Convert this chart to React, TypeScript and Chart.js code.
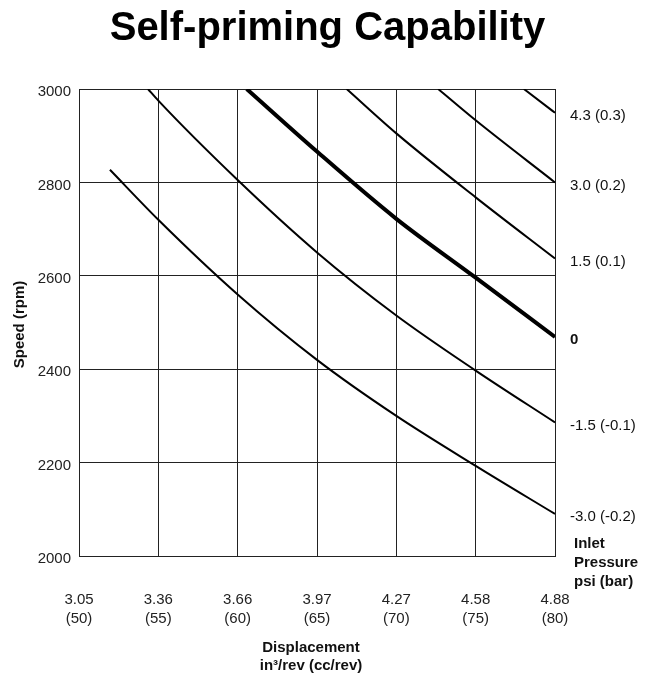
import React, { useEffect, useRef } from "react";
import { Chart, registerables } from "chart.js";

Chart.register(...registerables);

// Displacement tick labels (x axis: cc/rev)
const ccTicks = [50, 55, 60, 65, 70, 75, 80];
const inTicks = ["3.05", "3.36", "3.66", "3.97", "4.27", "4.58", "4.88"];

// Curves: inlet pressure psi (bar) – x in cc/rev, y in rpm
const p43X = [78.04, 80];
const p43Y = [3000, 2949];
const p30X = [72.64, 75, 80];
const p30Y = [3000, 2933, 2800];
const p15X = [66.87, 70, 75, 80];
const p15Y = [3000, 2905, 2768, 2637];
const zeroX = [60.57, 65, 70, 75, 80];
const zeroY = [3000, 2866, 2722, 2596, 2469];
const m15X = [54.35, 55, 60, 65, 70, 75, 80];
const m15Y = [3000, 2975, 2805, 2650, 2515, 2397, 2286];
const m30X = [51.95, 55, 60, 65, 70, 75, 80];
const m30Y = [2827, 2720, 2560, 2420, 2300, 2193, 2090];

const curveLabels = ["4.3 (0.3)", "3.0 (0.2)", "1.5 (0.1)", "0", "-1.5 (-0.1)", "-3.0 (-0.2)"];
const curveBold = [false, false, false, true, false, false];
const curveWidths = [2, 2, 2, 4, 2, 2];

const FONT = '"Liberation Sans", Arial, Helvetica, sans-serif';

function pts(xs: number[], ys: number[]) {
  return xs.map((x, i) => ({ x, y: ys[i] }));
}

const textPlugin = {
  id: "textPlugin",
  afterDraw(chart: any) {
    const ctx = chart.ctx as CanvasRenderingContext2D;
    const area = chart.chartArea;
    const ys = chart.scales.y;
    ctx.save();
    ctx.fillStyle = "#000";
    // Title
    ctx.font = `bold 40px ${FONT}`;
    ctx.textAlign = "center";
    ctx.textBaseline = "middle";
    ctx.fillText("Self-priming Capability", chart.width / 2, 21);

    // X axis title
    ctx.fillStyle = "#111";
    ctx.font = `bold 15px ${FONT}`;
    ctx.fillText("Displacement", 303, 640);
    ctx.fillText("in\u00b3/rev (cc/rev)", 303, 658);

    // Y axis title
    ctx.save();
    ctx.translate(12, (area.top + area.bottom) / 2 + 2);
    ctx.rotate(-Math.PI / 2);
    ctx.fillText("Speed (rpm)", 0, 0);
    ctx.restore();

    // Curve labels on the right
    ctx.textAlign = "left";
    chart.data.datasets.forEach((ds: any, i: number) => {
      const last = ds.data[ds.data.length - 1];
      const py = ys.getPixelForValue(last.y) + 3;
      ctx.font = `${curveBold[i] ? "bold " : ""}15px ${FONT}`;
      ctx.fillText(curveLabels[i], area.right + 15, py);
    });

    ctx.font = `bold 15px ${FONT}`;
    const lx = area.right + 19;
    ctx.fillText("Inlet", lx, area.bottom - 12);
    ctx.fillText("Pressure", lx, area.bottom + 7);
    ctx.fillText("psi (bar)", lx, area.bottom + 26);
    ctx.restore();
  },
};

export default function App() {
  const ref = useRef<HTMLCanvasElement>(null);
  useEffect(() => {
    if (!ref.current) return;
    const series = [
      pts(p43X, p43Y),
      pts(p30X, p30Y),
      pts(p15X, p15Y),
      pts(zeroX, zeroY),
      pts(m15X, m15Y),
      pts(m30X, m30Y),
    ];
    const chart = new Chart(ref.current, {
      type: "line",
      data: {
        datasets: series.map((d, i) => ({
          label: curveLabels[i],
          data: d,
          borderColor: "#000",
          borderWidth: curveWidths[i],
          pointRadius: 0,
          fill: false,
          cubicInterpolationMode: "monotone" as const,
        })),
      },
      options: {
        animation: false,
        responsive: false,
        maintainAspectRatio: false,
        layout: { padding: { top: 81, right: 92, left: 0, bottom: 0 } },
        plugins: { legend: { display: false }, tooltip: { enabled: false }, title: { display: false } },
        scales: {
          x: {
            type: "linear",
            min: 50,
            max: 80,
            afterFit: (s: any) => {
              s.height = 120;
            },
            afterBuildTicks: (s: any) => {
              s.ticks = ccTicks.map((v) => ({ value: v }));
            },
            grid: { color: "#222", lineWidth: 1, drawTicks: false },
            border: { color: "#222", width: 1 },
            ticks: {
              padding: 34,
              color: "#222",
              font: { family: FONT, size: 15, lineHeight: 1.27 },
              maxRotation: 0,
              callback: (v: any) => {
                const i = ccTicks.indexOf(Number(v));
                return i >= 0 ? [inTicks[i], `(${ccTicks[i]})`] : "";
              },
            },
          },
          y: {
            min: 2000,
            max: 3000,
            afterFit: (s: any) => {
              s.width = 71;
            },
            grid: { color: "#222", lineWidth: 1, drawTicks: false },
            border: { color: "#222", width: 1 },
            ticks: {
              stepSize: 200,
              padding: 8,
              labelOffset: 3,
              color: "#222",
              font: { family: FONT, size: 15 },
              callback: (v: any) => String(v),
            },
          },
        },
      },
      plugins: [textPlugin],
    });
    return () => chart.destroy();
  }, []);
  return (
    <div style={{ width: 639, height: 668 }}>
      <canvas ref={ref} width={639} height={668} style={{ display: "block" }} />
    </div>
  );
}
